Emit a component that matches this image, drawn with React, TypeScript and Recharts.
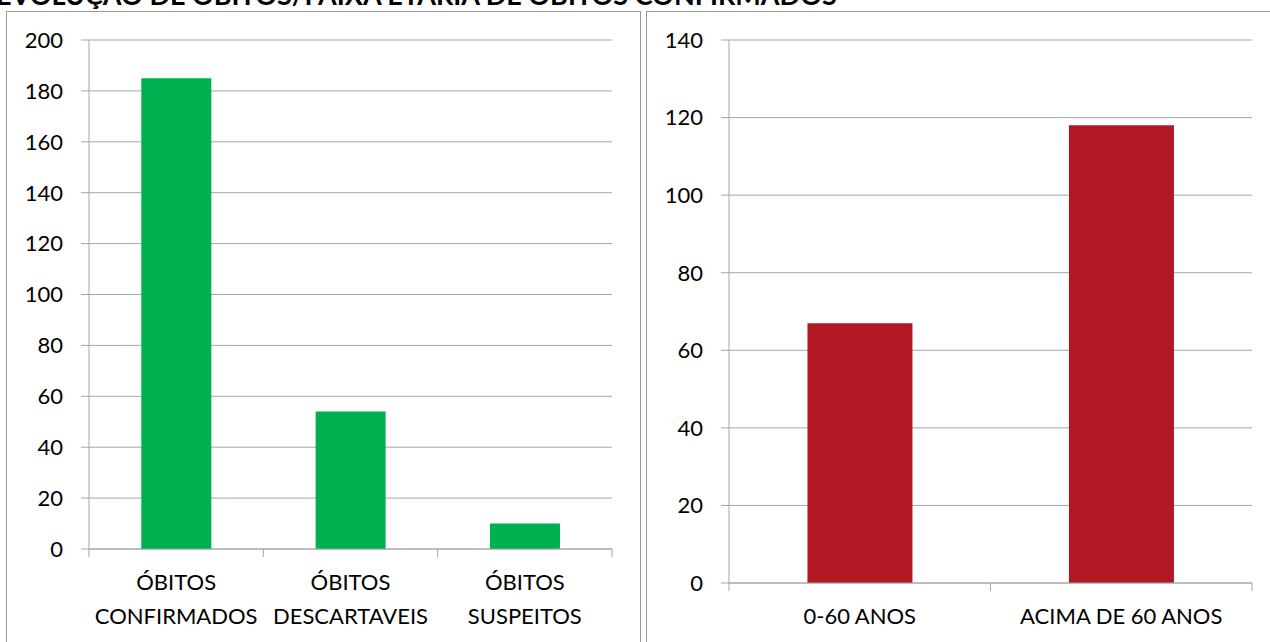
import React from 'react';
import { BarChart, Bar, XAxis, YAxis, CartesianGrid } from 'recharts';

const obitosCategorias = ['ÓBITOS\nCONFIRMADOS', 'ÓBITOS\nDESCARTAVEIS', 'ÓBITOS\nSUSPEITOS'];
const obitosValores = [185, 54, 10];
const obitosTicks = [0, 20, 40, 60, 80, 100, 120, 140, 160, 180, 200];

const faixaCategorias = ['0-60 ANOS', 'ACIMA DE 60 ANOS'];
const faixaValores = [67, 118];
const faixaTicks = [0, 20, 40, 60, 80, 100, 120, 140];

const TITULO = 'EVOLUÇÃO DE ÓBITOS/FAIXA ETÁRIA DE ÓBITOS CONFIRMADOS';

const FONT = 'Lato, "Open Sans", sans-serif';
const GRID = '#a6a6a6';

// category label, plus the small marks between categories (Excel style)
function CatTick(props: any) {
  const { x, y, payload, width, visibleTicksCount, index } = props;
  const lines = String(payload.value).split('\n');
  const band = width / visibleTicksCount;
  const left = x - band / 2;
  const right = x + band / 2;
  return (
    <g>
      <line x1={left} x2={left} y1={y} y2={y + 8} stroke={GRID} />
      {index === visibleTicksCount - 1 && <line x1={right} x2={right} y1={y} y2={y + 8} stroke={GRID} />}
      <text x={x} y={y} textAnchor="middle" fill="#000" fontSize={22} fontFamily={FONT}>
        {lines.map((l, i) => (
          <tspan key={i} x={x} dy={i === 0 ? 41 : 34}>
            {l}
          </tspan>
        ))}
      </text>
    </g>
  );
}

interface PanelProps {
  cats: string[];
  values: number[];
  ticks: number[];
  color: string;
  axisHeight: number;
  bottom: number;
}

function Panel({ cats, values, ticks, color, axisHeight, bottom }: PanelProps) {
  const data = cats.map((c, i) => ({ name: c, value: values[i] }));
  return (
    <BarChart
      width={640}
      height={642}
      data={data}
      margin={{ top: 40, right: 28, bottom, left: 0 }}
      barCategoryGap="30%"
    >
      <CartesianGrid vertical={false} stroke={GRID} />
      <XAxis
        dataKey="name"
        height={axisHeight}
        axisLine={{ stroke: GRID }}
        tickLine={false}
        tickSize={0}
        tickMargin={0}
        interval={0}
        tick={<CatTick />}
      />
      <YAxis
        domain={[0, ticks[ticks.length - 1]]}
        ticks={ticks}
        width={89}
        interval={0}
        tickSize={8}
        tickMargin={18}
        axisLine={{ stroke: GRID }}
        tickLine={{ stroke: GRID }}
        tick={{ fill: '#000', fontSize: 22, fontFamily: FONT }}
      />
      <Bar dataKey="value" fill={color} isAnimationActive={false} />
    </BarChart>
  );
}

export default function App() {
  return (
    <div
      style={{
        position: 'absolute',
        left: 0,
        top: 0,
        width: 1270,
        height: 642,
        overflow: 'hidden',
        background: '#fff',
        fontFamily: FONT,
      }}
    >
      <svg width={1270} height={20} style={{ position: 'absolute', left: 0, top: 0 }}>
        <text x={-4} y={5} fontSize={27} fontWeight="bold" fontFamily={FONT} fill="#000">
          {TITULO}
        </text>
      </svg>
      <div
        style={{
          position: 'absolute',
          left: 6,
          top: 11,
          width: 633,
          height: 660,
          border: '1px solid #9a9a9a',
        }}
      />
      <div
        style={{
          position: 'absolute',
          left: 646,
          top: 11,
          width: 660,
          height: 660,
          border: '1px solid #9a9a9a',
        }}
      />
      <div style={{ position: 'absolute', left: 0, top: 0 }}>
        <Panel
          cats={obitosCategorias}
          values={obitosValores}
          ticks={obitosTicks}
          color="#00b050"
          axisHeight={80}
          bottom={13}
        />
      </div>
      <div style={{ position: 'absolute', left: 640, top: 0 }}>
        <Panel
          cats={faixaCategorias}
          values={faixaValores}
          ticks={faixaTicks}
          color="#b21824"
          axisHeight={50}
          bottom={9}
        />
      </div>
    </div>
  );
}
